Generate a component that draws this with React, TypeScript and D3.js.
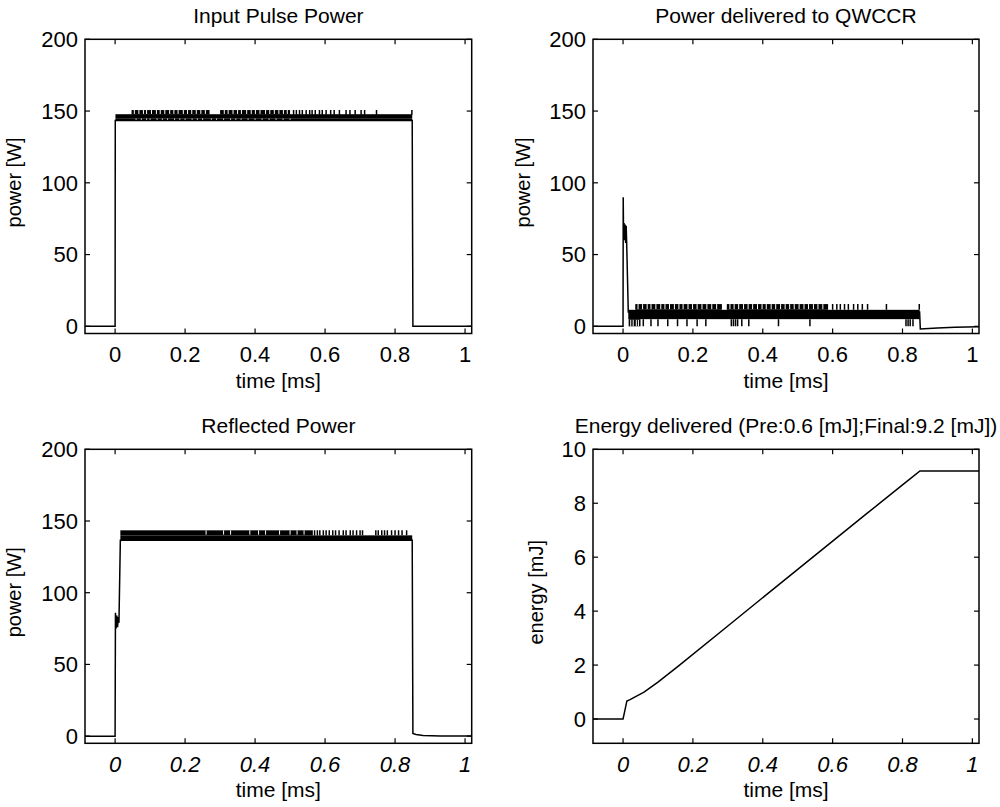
import React from 'react';
import * as d3 from 'd3';

// ---------- shared axis data ----------
const xTicks = [0, 0.2, 0.4, 0.6, 0.8, 1];
const xTickLabels = ['0', '0.2', '0.4', '0.6', '0.8', '1'];
const xDomain: [number, number] = [-0.086, 1.019];
const powerTicks = [0, 50, 100, 150, 200];
const powerDomain: [number, number] = [-5, 200];
const energyTicks = [0, 2, 4, 6, 8, 10];
const energyDomain: [number, number] = [-0.9, 10];

// ---------- Input Pulse Power ----------
const inputTrace: [number, number][] = [
  [-0.09, 0], [0, 0], [0.0005, 143.5], [0.849, 143.5], [0.851, 0], [1.03, 0],
];
// [t0, t1, lo, hi] dense noise blocks
const inputBlocks: [number, number, number, number][] = [
  [0.001, 0.849, 145, 147.8],
  [0.001, 0.849, 143.3, 145],
  [0.047, 0.27, 147.5, 150.7],
  [0.30, 0.50, 147.5, 150.7],
];
const inputUpGaps = [0.055, 0.068, 0.081, 0.09, 0.104, 0.118, 0.129, 0.142, 0.156, 0.168, 0.18, 0.195, 0.207, 0.219, 0.232, 0.245, 0.258,
  0.312, 0.323, 0.337, 0.35, 0.361, 0.376, 0.389, 0.401, 0.414, 0.43, 0.442, 0.455, 0.468, 0.481, 0.492];
const inputLowGaps = [0.06, 0.075, 0.09, 0.1, 0.12, 0.135, 0.15, 0.17, 0.185, 0.2, 0.22, 0.235, 0.25, 0.275, 0.29, 0.31, 0.33, 0.345,
  0.36, 0.38, 0.4, 0.42, 0.44, 0.46, 0.48, 0.5];
const inputUpSpikes = [0.51, 0.518, 0.527, 0.535, 0.546, 0.556, 0.563, 0.572, 0.584, 0.592, 0.603, 0.616, 0.626, 0.641, 0.66, 0.671,
  0.686, 0.703, 0.713, 0.747, 0.848];

// ---------- Power delivered to QWCCR ----------
const deliveredTrace: [number, number][] = [
  [-0.09, 0], [0, 0], [0.0005, 90], [0.0015, 62], [0.003, 72], [0.0045, 60], [0.006, 71], [0.0075, 58],
  [0.009, 70], [0.0105, 57], [0.015, 10], [0.849, 10], [0.851, -1.8], [0.9, -1.1], [0.95, -0.6], [1.03, -0.3],
];
const deliveredBlocks: [number, number, number, number][] = [
  [0.015, 0.849, 5, 11.5],
  [0.016, 0.05, 0, 5],
  [0.035, 0.283, 11.5, 15.5],
  [0.297, 0.587, 11.5, 15.5],
];
const deliveredUpGaps = [0.043, 0.056, 0.069, 0.08, 0.094, 0.108, 0.12, 0.133, 0.147, 0.16, 0.172, 0.186, 0.199, 0.212, 0.226, 0.24,
  0.254, 0.268, 0.306, 0.318, 0.331, 0.345, 0.358, 0.371, 0.385, 0.398, 0.41, 0.424, 0.437, 0.451, 0.464, 0.477, 0.49, 0.504,
  0.518, 0.531, 0.545, 0.558, 0.572];
const deliveredLowGaps = [0.022, 0.029, 0.038, 0.044];
const deliveredUpSpikes = [0.6, 0.612, 0.622, 0.634, 0.645, 0.66, 0.672, 0.685, 0.7, 0.754, 0.848];
const deliveredDownSpikes = [0.058, 0.08, 0.1, 0.128, 0.156, 0.183, 0.212, 0.237, 0.31, 0.316, 0.322, 0.328, 0.34, 0.36, 0.445,
  0.535, 0.81, 0.816, 0.822, 0.83];

// ---------- Reflected Power ----------
const reflectedTrace: [number, number][] = [
  [-0.09, 0], [0, 0], [0.001, 86], [0.003, 75], [0.005, 84], [0.007, 76], [0.009, 83], [0.011, 79],
  [0.015, 136.5], [0.849, 136.5], [0.851, 1.8], [0.86, 1.2], [0.88, 0.5], [0.93, 0.1], [1.03, 0],
];
const reflectedBlocks: [number, number, number, number][] = [
  [0.015, 0.849, 136.5, 140],
  [0.015, 0.565, 140, 143.5],
];
const reflectedUpGaps = [0.26, 0.31, 0.33, 0.385, 0.41, 0.43, 0.47, 0.5, 0.52, 0.54];
const reflectedUpSpikes = [0.57, 0.578, 0.585, 0.595, 0.603, 0.612, 0.622, 0.63, 0.64, 0.652, 0.66, 0.672, 0.68, 0.69, 0.7,
  0.707, 0.745, 0.752, 0.762, 0.77, 0.778, 0.79, 0.8, 0.81, 0.82, 0.833];

// ---------- Energy delivered ----------
const energyTrace: [number, number][] = [
  [-0.09, 0], [0, 0], [0.005, 0.3], [0.011, 0.67], [0.02, 0.72], [0.04, 0.86], [0.06, 1.0], [0.1, 1.37],
  [0.16, 1.98], [0.3, 3.45], [0.5, 5.55], [0.7, 7.64], [0.8, 8.68], [0.85, 9.2], [1.03, 9.2],
];

type SpikeSet = { times: number[]; lo: number; hi: number; color: string; width: number };

type PanelProps = {
  id: string;
  box: [number, number, number, number];
  yDomain: [number, number];
  yTicks: number[];
  title: string;
  ylabel: string;
  ylabelX: number;
  italicX: boolean;
  trace: [number, number][];
  blocks: [number, number, number, number][];
  spikes: SpikeSet[];
};

const FONT = "'Liberation Sans', Arial, Helvetica, sans-serif";

function Panel(p: PanelProps) {
  const [l, t, r, b] = p.box;
  const x = d3.scaleLinear().domain(xDomain).range([l, r]);
  const y = d3.scaleLinear().domain(p.yDomain).range([b, t]);
  const line = d3.line<[number, number]>().x(d => x(d[0])).y(d => y(d[1]));
  const tl = 5;
  const cx = (l + r) / 2;
  const cy = (t + b) / 2;
  return (
    <g>
      <defs>
        <clipPath id={p.id}>
          <rect x={l} y={t} width={r - l} height={b - t} />
        </clipPath>
      </defs>
      <g clipPath={`url(#${p.id})`}>
        {p.blocks.map((bk, i) => (
          <rect key={'b' + i} x={x(bk[0])} width={x(bk[1]) - x(bk[0])} y={y(bk[3])} height={y(bk[2]) - y(bk[3])} fill="#000" />
        ))}
        {p.spikes.map((s, i) => (
          <g key={'s' + i}>
            {s.times.map((tm, j) => (
              <line key={j} x1={x(tm)} x2={x(tm)} y1={y(s.lo)} y2={y(s.hi)} stroke={s.color} strokeWidth={s.width} />
            ))}
          </g>
        ))}
        <path d={line(p.trace) || ''} fill="none" stroke="#000" strokeWidth={1.5} />
      </g>
      {xTicks.map(v => (
        <g key={'xt' + v}>
          <line x1={x(v)} x2={x(v)} y1={b} y2={b - tl} stroke="#000" strokeWidth={1.2} />
          <line x1={x(v)} x2={x(v)} y1={t} y2={t + tl} stroke="#000" strokeWidth={1.2} />
        </g>
      ))}
      {p.yTicks.map(v => (
        <g key={'yt' + v}>
          <line x1={l} x2={l + tl} y1={y(v)} y2={y(v)} stroke="#000" strokeWidth={1.2} />
          <line x1={r} x2={r - tl} y1={y(v)} y2={y(v)} stroke="#000" strokeWidth={1.2} />
        </g>
      ))}
      <rect x={l} y={t} width={r - l} height={b - t} fill="none" stroke="#000" strokeWidth={1.5} />
      {xTicks.map((v, i) => (
        <text key={'xl' + v} x={x(v)} y={b + 28.5} textAnchor="middle" fontSize={22} fontFamily={FONT}
          fontStyle={p.italicX ? 'italic' : 'normal'}>{xTickLabels[i]}</text>
      ))}
      {p.yTicks.map(v => (
        <text key={'yl' + v} x={l - 7} y={y(v)} dy="0.36em" textAnchor="end" fontSize={22} fontFamily={FONT}>{v}</text>
      ))}
      <text x={cx} y={t - 16.5} textAnchor="middle" fontSize={21} fontFamily={FONT}>{p.title}</text>
      <text x={cx} y={b + 54} textAnchor="middle" fontSize={21} fontFamily={FONT}>time [ms]</text>
      <text transform={`translate(${p.ylabelX},${cy - 4}) rotate(-90)`} textAnchor="middle" fontSize={20} fontFamily={FONT}>{p.ylabel}</text>
    </g>
  );
}

export default function App() {
  const panels: PanelProps[] = [
    {
      id: 'c1', box: [85, 39.3, 471.7, 333.5], yDomain: powerDomain, yTicks: powerTicks,
      title: 'Input Pulse Power', ylabel: 'power [W]', ylabelX: 21, italicX: false,
      trace: inputTrace, blocks: inputBlocks,
      spikes: [
        { times: inputUpGaps, lo: 148, hi: 150.7, color: '#fff', width: 1 },
        { times: inputLowGaps, lo: 143.3, hi: 144.8, color: '#fff', width: 1 },
        { times: inputUpSpikes, lo: 147.5, hi: 150.7, color: '#000', width: 1.5 },
      ],
    },
    {
      id: 'c2', box: [593, 39.3, 979, 333.5], yDomain: powerDomain, yTicks: powerTicks,
      title: 'Power delivered to QWCCR', ylabel: 'power [W]', ylabelX: 530, italicX: false,
      trace: deliveredTrace, blocks: deliveredBlocks,
      spikes: [
        { times: deliveredUpGaps, lo: 12, hi: 15.5, color: '#fff', width: 1 },
        { times: deliveredLowGaps, lo: 0, hi: 4.5, color: '#fff', width: 1 },
        { times: deliveredUpSpikes, lo: 11.5, hi: 15.5, color: '#000', width: 1.5 },
        { times: deliveredDownSpikes, lo: 0, hi: 5, color: '#000', width: 1.5 },
      ],
    },
    {
      id: 'c3', box: [85, 449.3, 471.7, 743.3], yDomain: powerDomain, yTicks: powerTicks,
      title: 'Reflected Power', ylabel: 'power [W]', ylabelX: 21, italicX: true,
      trace: reflectedTrace, blocks: reflectedBlocks,
      spikes: [
        { times: reflectedUpGaps, lo: 140.5, hi: 143.5, color: '#fff', width: 1 },
        { times: reflectedUpSpikes, lo: 140, hi: 143.5, color: '#000', width: 1.5 },
      ],
    },
    {
      id: 'c4', box: [593, 449.3, 979, 743.3], yDomain: energyDomain, yTicks: energyTicks,
      title: 'Energy delivered (Pre:0.6 [mJ];Final:9.2 [mJ])', ylabel: 'energy [mJ]', ylabelX: 543, italicX: true,
      trace: energyTrace, blocks: [], spikes: [],
    },
  ];
  return (
    <svg width={1000} height={807} style={{ position: 'absolute', left: 0, top: 0, background: '#fff' }}>
      <rect width={1000} height={807} fill="#fff" />
      {panels.map(p => <Panel key={p.id} {...p} />)}
    </svg>
  );
}
